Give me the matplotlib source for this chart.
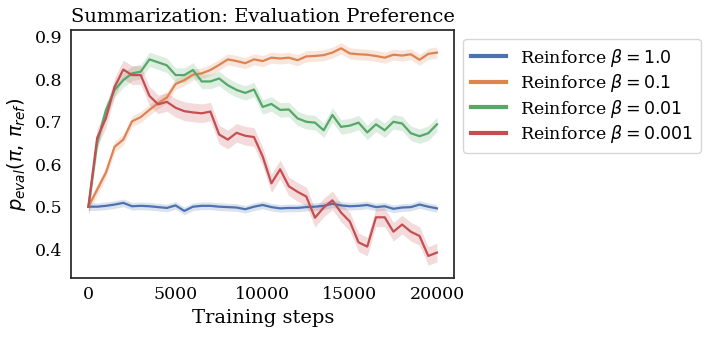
import numpy as np
import matplotlib
matplotlib.use("Agg")
import matplotlib.pyplot as plt

steps = list(range(0, 20001, 500))

labels = [r"Reinforce $\beta=1.0$", r"Reinforce $\beta=0.1$",
          r"Reinforce $\beta=0.01$", r"Reinforce $\beta=0.001$"]

beta_1 = [0.500, 0.500, 0.502, 0.505, 0.509, 0.501, 0.502, 0.501, 0.499, 0.497,
          0.503, 0.490, 0.500, 0.502, 0.502, 0.500, 0.499, 0.498, 0.494, 0.500,
          0.504, 0.499, 0.496, 0.497, 0.497, 0.499, 0.500, 0.502, 0.507, 0.503,
          0.501, 0.502, 0.504, 0.499, 0.501, 0.495, 0.498, 0.499, 0.505, 0.500,
          0.496]
beta_01 = [0.500, 0.540, 0.580, 0.641, 0.658, 0.701, 0.711, 0.728, 0.744, 0.757,
           0.789, 0.798, 0.811, 0.814, 0.822, 0.834, 0.847, 0.843, 0.838, 0.847,
           0.843, 0.851, 0.849, 0.851, 0.845, 0.854, 0.855, 0.857, 0.863, 0.873,
           0.861, 0.859, 0.858, 0.855, 0.851, 0.858, 0.856, 0.859, 0.846, 0.860,
           0.863]
beta_001 = [0.500, 0.650, 0.727, 0.775, 0.798, 0.814, 0.818, 0.847, 0.840, 0.833,
            0.810, 0.810, 0.822, 0.795, 0.795, 0.802, 0.786, 0.775, 0.768, 0.776,
            0.735, 0.742, 0.728, 0.729, 0.708, 0.700, 0.698, 0.680, 0.716, 0.688,
            0.691, 0.698, 0.675, 0.694, 0.680, 0.700, 0.696, 0.673, 0.666, 0.673,
            0.694]
beta_0001 = [0.500, 0.662, 0.708, 0.782, 0.823, 0.810, 0.810, 0.761, 0.741, 0.747,
             0.733, 0.725, 0.722, 0.720, 0.724, 0.670, 0.658, 0.674, 0.667, 0.664,
             0.618, 0.555, 0.588, 0.548, 0.535, 0.524, 0.474, 0.498, 0.515, 0.486,
             0.465, 0.416, 0.406, 0.475, 0.475, 0.441, 0.458, 0.441, 0.431, 0.384,
             0.392]
ci_half = [0.009, 0.013, 0.017, 0.022]

colors = ["#4C72B0", "#DD8452", "#55A868", "#C44E52"]
series = [beta_1, beta_01, beta_001, beta_0001]

plt.rcParams["font.family"] = ["DejaVu Serif"]
plt.rcParams["mathtext.fontset"] = "dejavusans"

fig = plt.figure(figsize=(7.1, 3.38), dpi=100)
ax = fig.add_axes([0.1, 0.1775, 0.54, 0.7335])

x = np.array(steps)
for vals, lab, c, h in zip(series, labels, colors, ci_half):
    y = np.array(vals)
    ax.plot(x, y, color=c, lw=1.6, label=lab)
    ax.fill_between(x, y - h, y + h, color=c, alpha=0.2, lw=0)

ax.set_xlim(-1000, 21000)
ax.set_ylim(0.332, 0.916)
ax.set_xticks([0, 5000, 10000, 15000, 20000])
ax.set_yticks([0.4, 0.5, 0.6, 0.7, 0.8, 0.9])
ax.tick_params(axis="both", length=0, labelsize=12.5, pad=6)
for s in ax.spines.values():
    s.set_color("#262626")
    s.set_linewidth(1.25)

ax.set_title("Summarization: Evaluation Preference", fontsize=14, pad=6)
ax.set_xlabel("Training steps", fontsize=14, labelpad=4)
ax.set_ylabel(r"$p_{eval}(\pi,\,\pi_{ref})$", fontsize=14, labelpad=5)

leg = ax.legend(loc="upper left", bbox_to_anchor=(1.0, 1.0), fontsize=12.5,
                frameon=True, handlelength=2.0, labelspacing=0.2,
                borderpad=0.45)
leg.get_frame().set_edgecolor("#cccccc")
for l in leg.get_lines():
    l.set_linewidth(3)

fig.savefig("out.png", dpi=100)
